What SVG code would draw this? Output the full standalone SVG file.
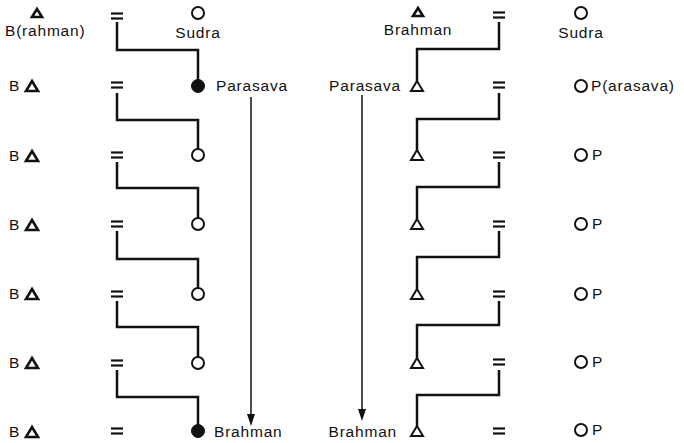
<svg xmlns="http://www.w3.org/2000/svg" width="684" height="443" viewBox="0 0 684 443">
<style>
text{font-family:"Liberation Sans",Arial,sans-serif;font-size:15.5px;fill:#111;letter-spacing:0.8px}
.c{fill:none;stroke:#111;stroke-width:2.5}
.a{fill:none;stroke:#111;stroke-width:1.5}
.tri{fill:#fff;stroke:#111;stroke-width:2.6;stroke-linejoin:miter}
.tri2{fill:#fff;stroke:#111;stroke-width:2}
.ci{fill:#fff;stroke:#111;stroke-width:2}
.cf{fill:#111;stroke:#111;stroke-width:1}
.eq{stroke:#111;stroke-width:2.2}
</style>
<defs>
<g id="eq"><line class="eq" x1="-6" y1="-2.5" x2="6" y2="-2.5"/><line class="eq" x1="-6" y1="2.5" x2="6" y2="2.5"/></g>
<polygon id="bt" class="tri" points="0,-5 6,5 -6,5"/>
<polygon id="st" class="tri" points="0,-4 5,4 -5,4"/>
<polygon id="rt" class="tri2" points="0,-5 6,5 -6,5"/>
</defs>

<g id="connectors">
<path class="c" d="M117,22 V50 H198 V80"/>
<path class="c" d="M117,93 V120 H198 V149"/>
<path class="c" d="M117,162 V188 H198 V218"/>
<path class="c" d="M117,231 V259 H198 V288"/>
<path class="c" d="M117,301 V327 H198 V357"/>
<path class="c" d="M117,370 V397 H198 V425"/>
<path class="c" d="M499,22 V49 H417 V81"/>
<path class="c" d="M499,93 V119 H417 V150"/>
<path class="c" d="M499,162 V187 H417 V219"/>
<path class="c" d="M499,231 V257 H417 V289"/>
<path class="c" d="M499,301 V325 H417 V358"/>
<path class="c" d="M499,370 V395 H417 V426"/>
<line class="a" x1="251" y1="97" x2="251" y2="416"/>
<polygon points="247,414 255,414 251,426" fill="#111"/>
<line class="a" x1="362" y1="95" x2="362" y2="411"/>
<polygon points="358,409 366,409 362,421" fill="#111"/>
</g>

<g id="left-top">
<use href="#st" x="37" y="13"/>
<text x="5" y="36">B(rahman)</text>
<use href="#eq" x="117" y="16"/>
<circle class="ci" cx="198" cy="13" r="6"/>
<text x="198" y="38" text-anchor="middle">Sudra</text>
</g>
<g id="right-top">
<use href="#st" x="418" y="12"/>
<text x="418" y="35" text-anchor="middle">Brahman</text>
<use href="#eq" x="499" y="15"/>
<circle class="ci" cx="581" cy="13" r="6"/>
<text x="581" y="38" text-anchor="middle">Sudra</text>
</g>

<g id="left-row1"><text x="9" y="91">B</text><use href="#bt" x="32" y="86"/><use href="#eq" x="117" y="85"/><circle class="cf" cx="198" cy="86" r="6.5"/><text x="216" y="91">Parasava</text></g>
<g id="left-row2"><text x="9" y="161">B</text><use href="#bt" x="32" y="156"/><use href="#eq" x="117" y="155"/><circle class="ci" cx="198" cy="155" r="6"/></g>
<g id="left-row3"><text x="9" y="230">B</text><use href="#bt" x="32" y="225"/><use href="#eq" x="117" y="224"/><circle class="ci" cx="198" cy="224" r="6"/></g>
<g id="left-row4"><text x="9" y="299">B</text><use href="#bt" x="32" y="294"/><use href="#eq" x="117" y="294"/><circle class="ci" cx="198" cy="294" r="6"/></g>
<g id="left-row5"><text x="9" y="368">B</text><use href="#bt" x="32" y="363"/><use href="#eq" x="117" y="363"/><circle class="ci" cx="198" cy="363" r="6"/></g>
<g id="left-row6"><text x="9" y="437">B</text><use href="#bt" x="32" y="432"/><use href="#eq" x="117" y="431"/><circle class="cf" cx="198" cy="431" r="6.5"/><text x="214" y="437">Brahman</text></g>

<g id="right-row1"><text x="401" y="91" text-anchor="end">Parasava</text><use href="#rt" x="417" y="86"/><use href="#eq" x="499" y="85"/><circle class="ci" cx="581" cy="86" r="6"/><text x="591" y="91">P(arasava)</text></g>
<g id="right-row2"><use href="#rt" x="417" y="155"/><use href="#eq" x="499" y="155"/><circle class="ci" cx="581" cy="155" r="6"/><text x="592" y="160">P</text></g>
<g id="right-row3"><use href="#rt" x="417" y="224"/><use href="#eq" x="499" y="224"/><circle class="ci" cx="581" cy="224" r="6"/><text x="592" y="229">P</text></g>
<g id="right-row4"><use href="#rt" x="417" y="294"/><use href="#eq" x="499" y="294"/><circle class="ci" cx="581" cy="294" r="6"/><text x="592" y="299">P</text></g>
<g id="right-row5"><use href="#rt" x="417" y="363"/><use href="#eq" x="499" y="362"/><circle class="ci" cx="581" cy="362" r="6"/><text x="592" y="367">P</text></g>
<g id="right-row6"><text x="397" y="437" text-anchor="end">Brahman</text><use href="#rt" x="417" y="431"/><use href="#eq" x="499" y="431"/><circle class="ci" cx="581" cy="430" r="6"/><text x="592" y="435">P</text></g>
</svg>
